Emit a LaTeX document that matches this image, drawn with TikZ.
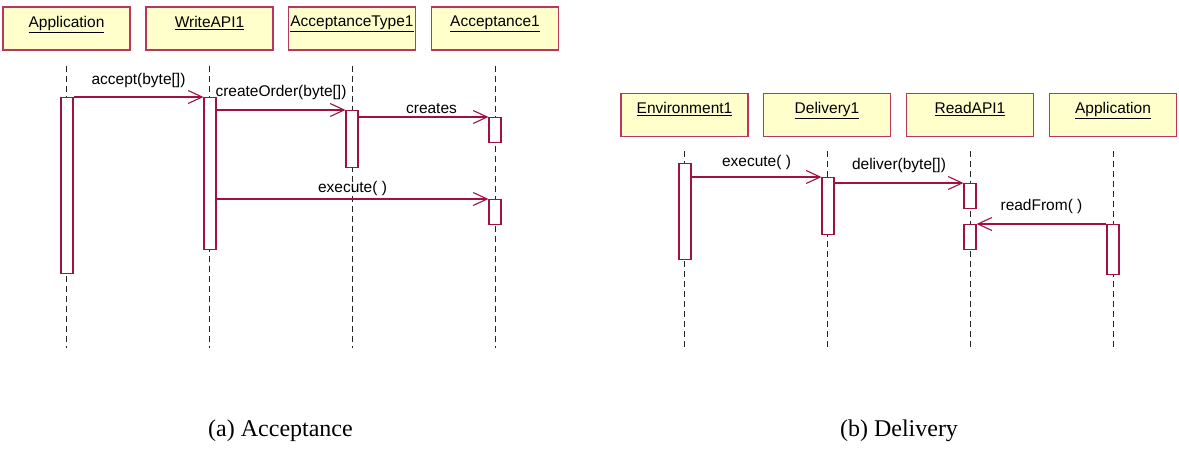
\documentclass[tikz,border=0pt]{standalone}
\usepackage{fontspec}
\setmainfont{Liberation Sans}
\newfontfamily\capfont{Liberation Serif}
\usetikzlibrary{arrows.meta}

\definecolor{umlred}{RGB}{160,16,64}
\definecolor{hdrline}{RGB}{185,55,95}
\definecolor{hdrfill}{RGB}{255,255,204}

\begin{document}
\begin{tikzpicture}[x=1pt,y=-1pt,font=\fontsize{15.5}{18}\selectfont,
	hdr/.style={draw=hdrline,fill=hdrfill,line width=1.1pt,minimum width=127pt,minimum height=43pt,inner sep=0pt,
		label={[anchor=north,inner sep=0pt,yshift=-9.5pt]north:\underline{#1}}},
	life/.style={black!85,line width=0.8pt,dash pattern=on 6pt off 4pt},
	act/.style={draw=umlred,fill=white,line width=1.1pt,minimum width=12pt,inner sep=0pt,anchor=north},
	msg/.style={umlred,line width=1.1pt,-{Straight Barb[length=14pt,width=13pt,line width=1.1pt]}},
	lbl/.style={anchor=base,inner sep=0pt,text=black},
	figcap/.style={anchor=base,font=\capfont\fontsize{24}{28}\selectfont}]
			\useasboundingbox (0,0) rectangle (1179,450);
			\coordinate (bot) at (0,348);
			
			% (a) acceptance
			\node[hdr=Application] (app) at (66.5,28.5) {};
			\node[hdr=WriteAPI1] (wapi) at (209.5,28.5) {};
			\node[hdr=AcceptanceType1] (atype) at (352,28.5) {};
			\node[hdr=Acceptance1] (acc) at (495,28.5) {};
			
			% (b) delivery
			\node[hdr=Environment1] (env) at (684.5,115) {};
			\node[hdr=Delivery1] (del) at (827,115) {};
			\node[hdr=ReadAPI1] (rapi) at (970,115) {};
			\node[hdr=Application] (rapp) at (1113,115) {};
			
			\foreach \n/\s in {app/15,wapi/15,atype/15,acc/15,env/14,del/14,rapi/14,rapp/14}
			\draw[life] ([yshift=-\s pt]\n.south) -- (\n.south |- bot);
			
			\node[act,minimum height=176pt] (aApp) at (67,97) {};
			\node[act,minimum height=152pt] (aW) at (210,97) {};
			\node[act,minimum height=57pt] (aAT) at (352,110) {};
			\node[act,minimum height=25pt] (aAcc1) at (495,117) {};
			\node[act,minimum height=25pt] (aAcc2) at (495,199) {};
			
			\node[act,minimum height=96pt] (aEnv) at (685,163) {};
			\node[act,minimum height=57pt] (aDel) at (828,177) {};
			\node[act,minimum height=25pt] (aR1) at (970,183) {};
			\node[act,minimum height=25pt] (aR2) at (970,224) {};
			\node[act,minimum height=50pt] (aRapp) at (1113,224) {};
			
			\draw[msg] (aApp.north east) -- node[lbl,yshift=13pt] {accept(byte[])} (aW.north west);
			\draw[msg] (aAT.north west -| aW.east) -- node[lbl,yshift=14pt] {createOrder(byte[])} (aAT.north west);
			\draw[msg] (aAcc1.north west -| aAT.east) -- node[lbl,yshift=4pt,xshift=8pt] {creates} (aAcc1.north west);
			\draw[msg] (aAcc2.north west -| aW.east) -- node[lbl,yshift=7pt] {execute( )} (aAcc2.north west);
			
			\draw[msg] (aDel.north west -| aEnv.east) -- node[lbl,yshift=11pt] {execute( )} (aDel.north west);
			\draw[msg] (aR1.north west -| aDel.east) -- node[lbl,yshift=14pt] {deliver(byte[])} (aR1.north west);
			\draw[msg] (aRapp.north west) -- node[lbl,yshift=14pt] {readFrom( )} (aR2.north east);
			
			\node[figcap] (capA) at (280.5,436) {(a) Acceptance};
			\node[figcap] (capB) at (899,436) {(b) Delivery};
\end{tikzpicture}
\end{document}
